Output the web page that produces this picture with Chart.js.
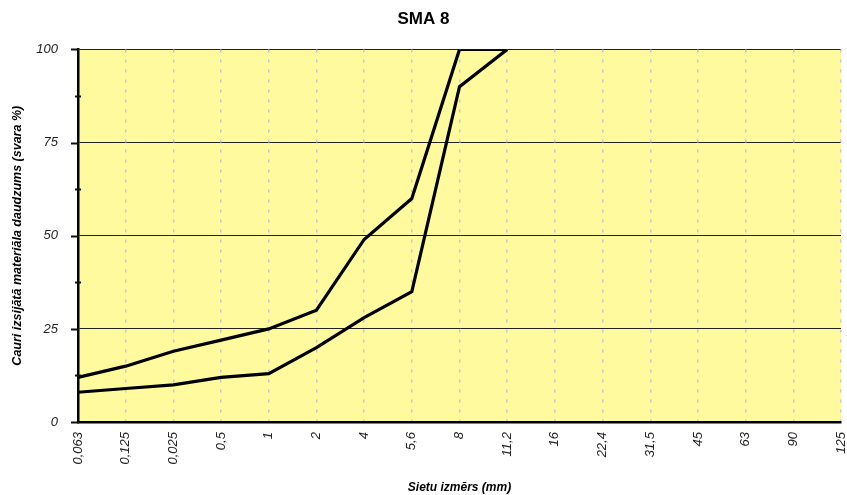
<!DOCTYPE html>
<html>
<head>
<meta charset="utf-8">
<script src="https://cdn.jsdelivr.net/npm/chart.js@4/dist/chart.umd.min.js"></script>
<style>
  html, body { margin: 0; padding: 0; background: #ffffff; }
  #wrap { width: 847px; height: 495px; }
</style>
</head>
<body>
<div id="wrap"><canvas id="c" width="847" height="495"></canvas></div>
<script>
const categories = ["0,063", "0,125", "0,025", "0,5", "1", "2", "4", "5,6", "8", "11,2", "16", "22,4", "31,5", "45", "63", "90", "125"];
const upperLimit = [12, 15, 19, 22, 25, 30, 49, 60, 100, 100];
const lowerLimit = [8, 9, 10, 12, 13, 20, 28, 35, 90, 100];
const yMajorTicks = [0, 25, 50, 75, 100];
const titleText = "SMA 8";
const xTitle = "Sietu izmērs (mm)";
const yTitle = "Cauri izsijātā materiāla daudzums (svara %)";

const FONT = "'Liberation Sans', Arial, sans-serif";

const plotBg = {
  id: 'plotBg',
  beforeDraw(chart) {
    const { ctx, chartArea: a } = chart;
    ctx.save();
    ctx.fillStyle = '#FFFA9E';
    ctx.fillRect(a.left, a.top, a.right - a.left, a.bottom - a.top);
    ctx.restore();
  }
};

const minorTicks = {
  id: 'minorTicks',
  afterDatasetsDraw(chart) {
    const { ctx } = chart;
    const y = chart.scales.y;
    const x = y.left + y.width;
    ctx.save();
    ctx.strokeStyle = '#111';
    ctx.lineWidth = 2;
    for (let v = 0; v <= 100; v += 12.5) {
      const py = Math.round(y.getPixelForValue(v)) + 0.5;
      const isMajor = yMajorTicks.includes(v);
      ctx.beginPath();
      if (isMajor) {
        ctx.moveTo(x - 7, py);
        ctx.lineTo(x + 1, py);
      } else {
        ctx.moveTo(x - 3, py);
        ctx.lineTo(x + 3, py);
      }
      ctx.stroke();
    }
    ctx.restore();
  }
};

new Chart(document.getElementById('c'), {
  type: 'line',
  data: {
    labels: categories,
    datasets: [
      { label: 'upper', data: upperLimit, borderColor: '#000', borderWidth: 3.2, pointRadius: 0, tension: 0, fill: false },
      { label: 'lower', data: lowerLimit, borderColor: '#000', borderWidth: 3.2, pointRadius: 0, tension: 0, fill: false }
    ]
  },
  options: {
    responsive: false,
    animation: false,
    layout: { padding: { left: 6, right: 6, top: 0, bottom: 0 } },
    plugins: {
      legend: { display: false },
      tooltip: { enabled: false },
      title: {
        display: true,
        text: titleText,
        color: '#000',
        font: { family: FONT, size: 17, weight: 'bold' },
        padding: { top: 9, bottom: 20 }
      }
    },
    scales: {
      x: {
        type: 'category',
        offset: false,
        afterFit: (s) => { s.paddingLeft = 0; s.paddingRight = 0; },
        grid: {
          color: '#c8c8c8',
          lineWidth: 1.5,
          drawTicks: false,
          z: 0
        },
        border: { display: true, color: '#000', width: 2.5, dash: [3, 7] },
        ticks: {
          autoSkip: false,
          maxRotation: 90,
          minRotation: 90,
          padding: 10,
          color: '#222',
          font: { family: FONT, size: 13, style: 'italic' }
        },
        title: {
          display: true,
          text: xTitle,
          color: '#000',
          font: { family: FONT, size: 12, weight: 'bold', style: 'italic' },
          padding: { top: 6, bottom: 0 }
        }
      },
      y: {
        min: 0,
        max: 100,
        afterFit: (s) => { s.width = 72; },
        grid: {
          color: (c) => (c.tick && yMajorTicks.includes(c.tick.value) && c.tick.value !== 0) ? '#222' : 'rgba(0,0,0,0)',
          lineWidth: 1,
          drawTicks: false
        },
        border: { display: true, color: '#000', width: 2.5 },
        ticks: {
          stepSize: 12.5,
          padding: 20,
          color: '#222',
          font: { family: FONT, size: 13, style: 'italic' },
          callback: (v) => yMajorTicks.includes(v) ? String(v) : ''
        },
        title: {
          display: true,
          text: yTitle,
          color: '#000',
          font: { family: FONT, size: 12.5, weight: 'bold', style: 'italic' },
          padding: { top: 4, bottom: 10 }
        }
      }
    }
  },
  plugins: [plotBg, minorTicks]
});
</script>
</body>
</html>
